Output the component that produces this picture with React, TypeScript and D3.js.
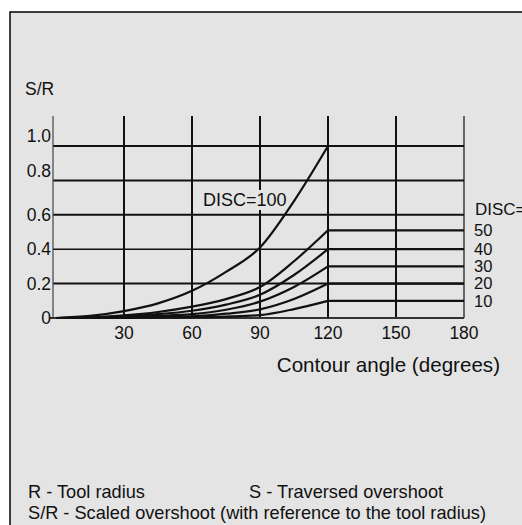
import React from "react";
import * as d3 from "d3";

const angles = [0, 15, 30, 45, 60, 75, 90, 105, 120];
const disc100 = [0, 0.012, 0.04, 0.085, 0.158, 0.268, 0.41, 0.68, 1.0];
const disc50 = [0, 0.003, 0.015, 0.035, 0.066, 0.11, 0.18, 0.33, 0.51];
const disc40 = [0, 0.002, 0.01, 0.022, 0.042, 0.078, 0.135, 0.25, 0.4];
const disc30 = [0, 0.001, 0.006, 0.012, 0.022, 0.048, 0.095, 0.18, 0.3];
const disc20 = [0, 0, 0.003, 0.006, 0.01, 0.025, 0.05, 0.11, 0.2];
const disc10 = [0, 0, 0.001, 0.002, 0.004, 0.008, 0.017, 0.052, 0.1];
const series = [
  { name: "100", values: disc100 },
  { name: "50", values: disc50 },
  { name: "40", values: disc40 },
  { name: "30", values: disc30 },
  { name: "20", values: disc20 },
  { name: "10", values: disc10 },
];
const rightLabels = ["50", "40", "30", "20", "10"];
const xTicks = [30, 60, 90, 120, 150, 180];
const yTicks = [0, 0.2, 0.4, 0.6, 0.8, 1.0];
const yTickLabels = ["0", "0.2", "0.4", "0.6", "0.8", "1.0"];
const xMax = 180;

export default function App() {
  const W = 522, H = 525;
  const x = d3.scaleLinear().domain([0, xMax]).range([56, 464]);
  const y = d3.scaleLinear().domain([0, 1]).range([318, 146]);
  const yTop = 116;
  const font = "'Liberation Sans', Arial, sans-serif";
  const ink = "#111";
  const curve = d3
    .line<number>()
    .x((_, i) => x(angles[i]))
    .y((d) => y(d))
    .curve(d3.curveMonotoneX);
  const flat = (v: number) =>
    d3.line<number>().x((d) => x(d)).y(() => y(v))([angles[angles.length - 1], xMax]) || "";
  const xl = x(0) - 3;

  return (
    <svg
      width={W}
      height={H}
      style={{ position: "absolute", left: 0, top: 0, display: "block" }}
      fontFamily={font}
    >
      <rect x={0} y={0} width={W} height={H} fill="#fff" />
      <rect x={10} y={12} width={W + 20} height={H + 20} fill="#e4e4e4" stroke="#000" strokeWidth={1.5} />

      {/* horizontal grid */}
      {yTicks.filter((t) => t > 0).map((t) => (
        <line key={"h" + t} x1={xl} x2={x(xMax)} y1={y(t)} y2={y(t)} stroke={ink} strokeWidth={t === 0.4 ? 1.5 : 2} />
      ))}
      {/* vertical grid */}
      {xTicks.filter((t) => t < xMax).map((t) => (
        <line key={"v" + t} x1={x(t)} x2={x(t)} y1={yTop} y2={y(0)} stroke={ink} strokeWidth={2} />
      ))}
      <line x1={x(xMax)} x2={x(xMax)} y1={yTop} y2={y(0)} stroke={ink} strokeWidth={1.2} />
      <line x1={xl} x2={xl} y1={yTop} y2={y(0)} stroke="#444" strokeWidth={1.2} />
      <line x1={xl - 3} x2={x(xMax)} y1={y(0)} y2={y(0)} stroke="#333" strokeWidth={2} />

      {/* DISC=100 label with background */}
      <rect x={201} y={190} width={88} height={20} fill="#e4e4e4" />
      <text x={203} y={200} dy="0.35em" fontSize={18} fill={ink}>DISC=100</text>

      {/* curves */}
      {series.map((s) => (
        <g key={s.name}>
          <path d={curve(s.values) || ""} fill="none" stroke={ink} strokeWidth={2.2} strokeLinejoin="round" />
          <path d={flat(s.values[s.values.length - 1])} fill="none" stroke={ink} strokeWidth={2.2} />
        </g>
      ))}

      {/* y tick labels */}
      {yTicks.map((t, i) => (
        <text key={"yl" + t} x={51} y={y(t) + (t >= 0.8 ? -10 : 0)} dy="0.35em" textAnchor="end" fontSize={17.5} fill={ink}>
          {yTickLabels[i]}
        </text>
      ))}
      <text x={25} y={89} dy="0.35em" fontSize={17.5} fill={ink}>S/R</text>

      {/* x tick labels */}
      {xTicks.map((t) => (
        <text key={"xl" + t} x={x(t)} y={333} dy="0.35em" textAnchor="middle" fontSize={17.5} fill={ink}>
          {t}
        </text>
      ))}
      <text x={500} y={365} dy="0.35em" textAnchor="end" fontSize={20.6} fill={ink}>Contour angle (degrees)</text>

      {/* right labels */}
      <text x={475} y={209} dy="0.35em" fontSize={17} fill={ink}>DISC=</text>
      {series.slice(1).map((s, i) => (
        <text key={"rl" + s.name} x={474} y={y(s.values[s.values.length - 1])} dy="0.35em" fontSize={16.5} fill={ink}>
          {rightLabels[i]}
        </text>
      ))}

      {/* footnotes */}
      <text x={28} y={492} dy="0.35em" fontSize={18.2} fill={ink}>R - Tool radius</text>
      <text x={249} y={492} dy="0.35em" fontSize={18.2} fill={ink}>S - Traversed overshoot</text>
      <text x={28} y={513} dy="0.35em" fontSize={18.2} fill={ink}>S/R - Scaled overshoot (with reference to the tool radius)</text>
    </svg>
  );
}
